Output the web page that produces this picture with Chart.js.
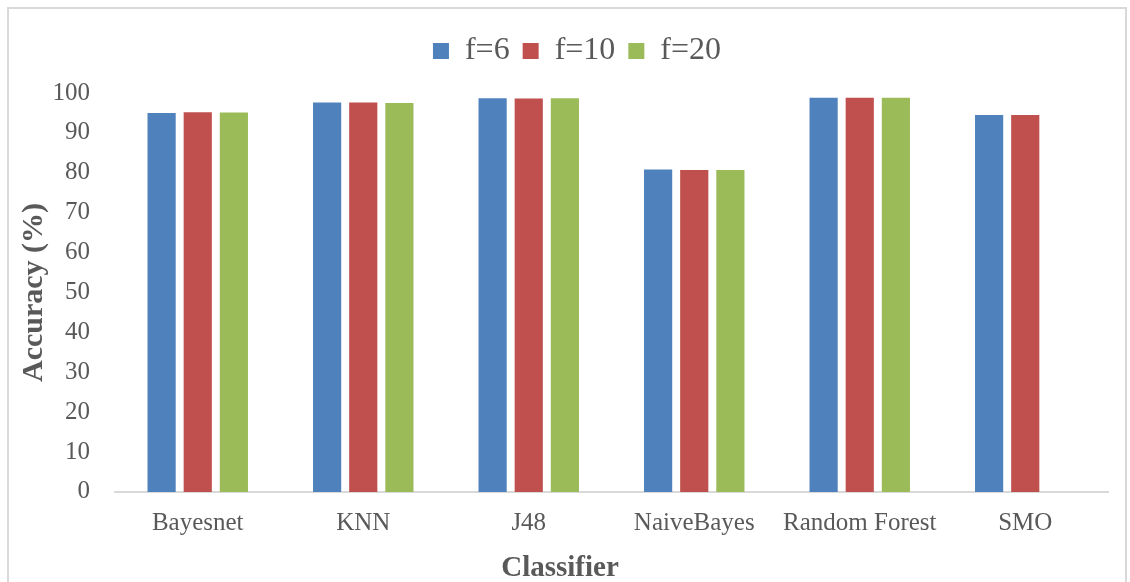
<!DOCTYPE html>
<html>
<head>
<meta charset="utf-8">
<script src="https://cdn.jsdelivr.net/npm/chart.js@4"></script>
<style>
body { margin: 0; background: #fff; }
#frame { position: absolute; left: 7px; top: 7px; width: 1116px; height: 600px; border: 2px solid #d9d9d9; }
#wrap { position: absolute; left: 0; top: 0; width: 1130px; height: 582px; }
</style>
</head>
<body>
<div id="frame"></div>
<div id="wrap"><canvas id="acc_chart" width="1130" height="582"></canvas></div>
<script>
// values
var classifiers = ['Bayesnet', 'KNN', 'J48', 'NaiveBayes', 'Random Forest', 'SMO'];
var f6_values  = [95.0, 97.6, 98.7, 80.8, 98.8, 94.5];
var f10_values = [95.2, 97.6, 98.6, 80.7, 98.8, 94.5];
var f20_values = [95.1, 97.5, 98.7, 80.7, 98.8, null];
var y_ticks = [0, 10, 20, 30, 40, 50, 60, 70, 80, 90, 100];

var serif = '"Liberation Serif", "Times New Roman", serif';
var grey = '#595959';

function make_dataset(label, values, color){
	var ds = {};
	ds.label = label;
	ds.data = values;
	ds.backgroundColor = color;
	ds.borderWidth = 0;
	ds.categoryPercentage = 0.655;
	ds.barPercentage = 0.78;
	return ds;
}

// extra room under the legend, and legend moved a bit right like the original
var legend_gap = {
	id: 'legend_gap',
	beforeInit: function(chart){
		var orig = chart.legend.fit;
		chart.legend.fit = function(){
			orig.bind(chart.legend)();
			this.height += 16;
		};
	},
	afterLayout: function(chart){
		chart.legend.left += 17;
		chart.legend.right += 17;
	}
};

function draw_chart(){
	var ctx = document.getElementById('acc_chart').getContext('2d');

	var data = {};
	data.labels = classifiers;
	data.datasets = [];
	data.datasets.push(make_dataset('f=6', f6_values, '#4F81BD'));
	data.datasets.push(make_dataset('f=10', f10_values, '#C0504D'));
	data.datasets.push(make_dataset('f=20', f20_values, '#9BBB59'));

	var opts = {
		responsive: false,
		animation: false,
		layout: { padding: { top: 22, left: 12, right: 22, bottom: 0 } },
		plugins: {
			tooltip: { enabled: false },
			legend: {
				position: 'top',
				labels: {
					boxWidth: 16, boxHeight: 16, padding: 13,
					color: grey,
					font: { family: serif, size: 32 }
				}
			},
			title: {
				display: true,
				text: 'Classifier',
				position: 'bottom',
				color: grey,
				padding: { top: 0, bottom: 0 },
				font: { family: serif, size: 29, weight: 'bold', lineHeight: 0.9 }
			}
		},
		scales: {
			x: {
				grid: { display: false, drawTicks: false },
				border: { display: true, color: '#d9d9d9', width: 2 },
				ticks: { color: grey, padding: 17, font: { family: serif, size: 25 } }
			},
			y: {
				min: 0, max: 100,
				afterBuildTicks: function(axis){
					axis.ticks = y_ticks.map(function(v){ return { value: v }; });
				},
				afterFit: function(axis){
					axis.width = 103;
				},
				grid: { display: false, drawTicks: false },
				border: { display: false },
				ticks: { color: grey, padding: 25, font: { family: serif, size: 25 } },
				title: {
					display: true,
					text: 'Accuracy (%)',
					color: grey,
					padding: { top: 4, bottom: 3 },
					font: { family: serif, size: 30, weight: 'bold' }
				}
			}
		}
	};

	var params = {};
	params.type = 'bar';
	params.data = data;
	params.options = opts;
	params.plugins = [legend_gap];
	return new Chart(ctx, params);
}

draw_chart();
</script>
</body>
</html>
